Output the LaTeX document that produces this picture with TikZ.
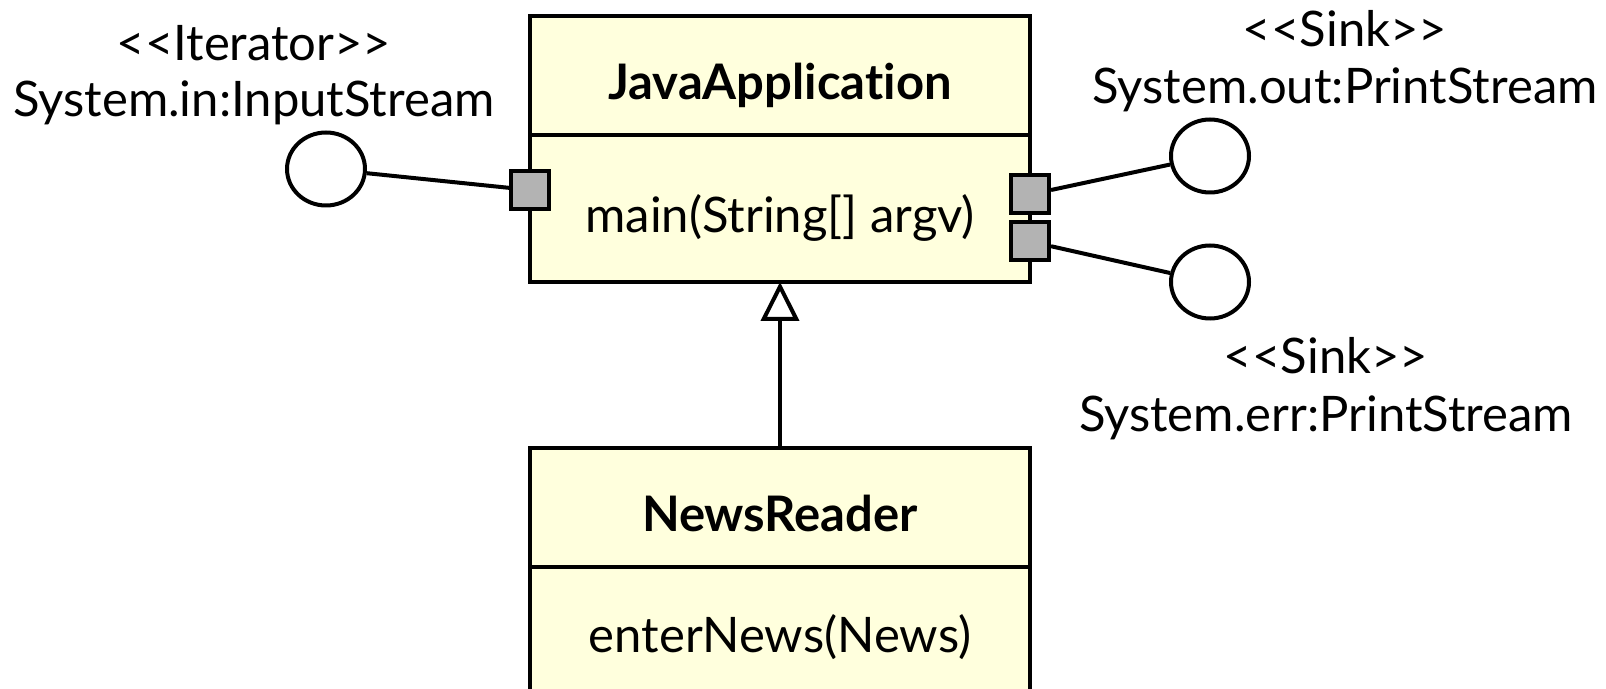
\documentclass[tikz,border=0pt]{standalone}
\usepackage{fontspec}
\setmainfont{Lato}[Ligatures=NoCommon]
\usetikzlibrary{arrows.meta,shapes.geometric,positioning}
\definecolor{classfill}{RGB}{255,255,221}
\definecolor{portfill}{RGB}{179,179,179}

\begin{document}
\begin{tikzpicture}[x=0.5pt, y=-0.5pt,
    every node/.style={font=\fontsize{24.5}{29}\selectfont},
    head/.style={draw, fill=classfill, line width=2pt, outer sep=0pt, minimum width=250pt, minimum height=59.5pt, text height=24pt, text depth=0pt, font=\fontsize{24.5}{29}\selectfont\bfseries},
    body/.style={draw, fill=classfill, line width=2pt, outer sep=0pt, minimum width=250pt, minimum height=73.5pt, text height=24pt, text depth=0pt},
    port/.style={draw, fill=portfill, line width=2pt, minimum size=19pt, inner sep=0pt},
    iface/.style={ellipse, draw, fill=white, line width=2pt, minimum width=39pt, minimum height=36.5pt, inner sep=0pt},
    link/.style={line width=2pt}]
    \useasboundingbox (0,0) rectangle (1606,689);

    \node[head] (appHead) at (780,75.5) {JavaApplication};
    \node[body, below=0pt of appHead] (appBody) {main(String[] argv)};

    \node[head] (readerHead) at (780,507.5) {NewsReader};
    \node[body, below=0pt of readerHead, minimum height=100pt, text depth=38.4pt] (readerBody) {enterNews(News)};

    \node[port] (inPort) at ([yshift=9.25pt]appBody.west) {};
    \node[port] (outPort) at ([yshift=7pt]appBody.east) {};
    \node[port] (errPort) at ([yshift=-16.5pt]appBody.east) {};

    \node[iface] (inIface) at (326,169) {};
    \node[iface] (outIface) at (1210,156) {};
    \node[iface] (errIface) at (1210,282) {};

    \node (inStereo) at (254,43) {<{}<Iterator>{}>};
    \node (inName) at (254,103) {System.in:InputStream};
    \node (outStereo) at (1345,29) {<{}<Sink>{}>};
    \node (outName) at (1345,90) {System.out:PrintStream};
    \node (errStereo) at (1326,356) {<{}<Sink>{}>};
    \node (errName) at (1326,418) {System.err:PrintStream};

    \draw[link] (inIface) -- (inPort);
    \draw[link] (outPort) -- (outIface);
    \draw[link] (errPort) -- (errIface);

    \draw[link, -{Triangle[open, length=19.5pt, width=19pt]}] (readerHead) -- (appBody);
\end{tikzpicture}
\end{document}
